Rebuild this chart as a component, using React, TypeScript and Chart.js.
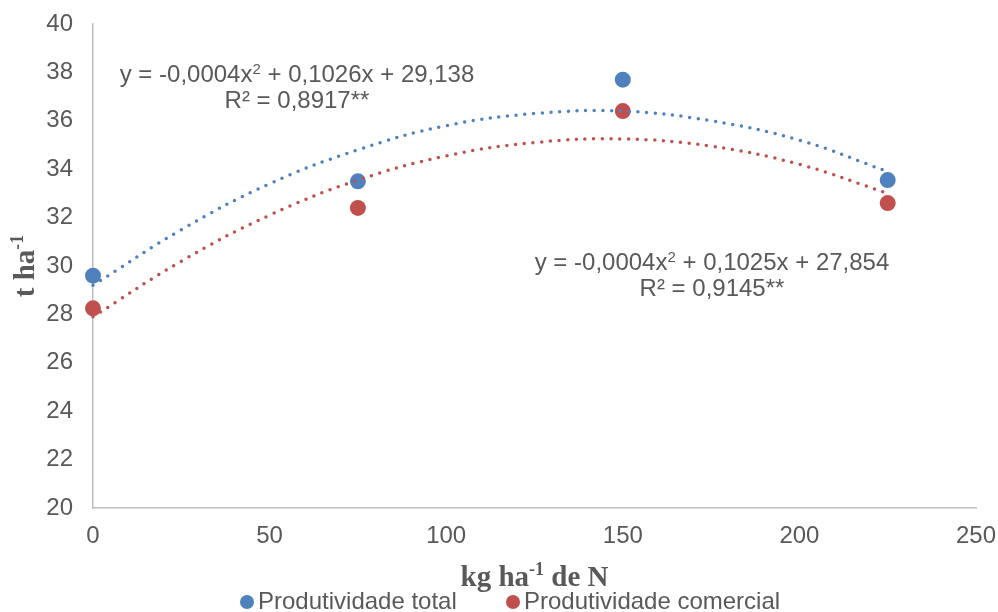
import { useEffect, useRef } from 'react';
import { Chart, registerables } from 'chart.js';

Chart.register(...registerables);

// Doses de N (kg/ha)
const xDoses = [0, 75, 150, 225];
const totalValues = [29.6, 33.5, 37.7, 33.55];
const comercialValues = [28.25, 32.4, 36.4, 32.6];

// Trend lines
const trendX = [0, 25, 50, 75, 100, 125, 150, 175, 200, 225];
const trendTotal = [29.2, 31.5, 33.4, 34.8, 35.8, 36.3, 36.4, 36.0, 35.2, 33.9];
const trendComercial = [27.9, 30.2, 32.1, 33.55, 34.55, 35.1, 35.25, 34.95, 34.2, 33.0];

const seriesNames = ['Produtividade total', 'Produtividade comercial'];
const equationTotal = ['y = -0,0004x', '2', ' + 0,1026x + 29,138'];
const r2Total = 'R² = 0,8917**';
const equationComercial = ['y = -0,0004x', '2', ' + 0,1025x + 27,854'];
const r2Comercial = 'R² = 0,9145**';

const BLUE = '#4F81BD';
const RED = '#C0504D';
const TEXT = '#595959';
const SANS = 'Arial, "Liberation Sans", sans-serif';
const SERIF = '"Times New Roman", "Liberation Serif", serif';

type Seg = { text: string; font: string; dy: number };

function drawRich(ctx: CanvasRenderingContext2D, segs: Seg[], x: number, y: number, align: 'left' | 'center') {
  let total = 0;
  for (const s of segs) {
    ctx.font = s.font;
    total += ctx.measureText(s.text).width;
  }
  let cx = align === 'center' ? x - total / 2 : x;
  ctx.textAlign = 'left';
  for (const s of segs) {
    ctx.font = s.font;
    ctx.fillText(s.text, cx, y + s.dy);
    cx += ctx.measureText(s.text).width;
  }
}

function toPoints(xs: number[], ys: number[]) {
  return xs.map((x, i) => ({ x, y: ys[i] }));
}

export default function App() {
  const ref = useRef<HTMLCanvasElement>(null);

  useEffect(() => {
    document.body.style.margin = '0';
    const canvas = ref.current!;

    const textPlugin = {
      id: 'customTexts',
      afterDraw(chart: any) {
        const ctx: CanvasRenderingContext2D = chart.ctx;
        const xs = chart.scales.x;
        const ys = chart.scales.y;
        ctx.save();
        ctx.fillStyle = TEXT;
        ctx.textBaseline = 'alphabetic';
        const main = `24px ${SANS}`;
        const sup = `15px ${SANS}`;
        // Equation 1
        drawRich(ctx, [
          { text: equationTotal[0], font: main, dy: 0 },
          { text: equationTotal[1], font: sup, dy: -8 },
          { text: equationTotal[2], font: main, dy: 0 },
        ], 297, 82, 'center');
        drawRich(ctx, [{ text: r2Total, font: main, dy: 0 }], 297, 108, 'center');
        // Equation 2
        drawRich(ctx, [
          { text: equationComercial[0], font: main, dy: 0 },
          { text: equationComercial[1], font: sup, dy: -8 },
          { text: equationComercial[2], font: main, dy: 0 },
        ], 712, 270, 'center');
        drawRich(ctx, [{ text: r2Comercial, font: main, dy: 0 }], 712, 296, 'center');

        // X axis title
        const tb = `bold 29px ${SERIF}`;
        const tsup = `bold 18px ${SERIF}`;
        const cxm = (xs.left + xs.right) / 2;
        drawRich(ctx, [
          { text: 'kg ha', font: tb, dy: 0 },
          { text: '-1', font: tsup, dy: -11 },
          { text: ' de N', font: tb, dy: 0 },
        ], cxm, 586, 'center');

        // Y axis title
        ctx.save();
        ctx.translate(34, (ys.top + ys.bottom) / 2);
        ctx.rotate(-Math.PI / 2);
        drawRich(ctx, [
          { text: 't ha', font: tb, dy: 0 },
          { text: '-1', font: tsup, dy: -11 },
        ], 0, 0, 'center');
        ctx.restore();

        // Legend
        ctx.textBaseline = 'middle';
        ctx.font = main;
        const ly = 602;
        const items = [
          { x: 247, color: BLUE, label: seriesNames[0] },
          { x: 513, color: RED, label: seriesNames[1] },
        ];
        for (const it of items) {
          ctx.beginPath();
          ctx.fillStyle = it.color;
          ctx.arc(it.x, ly, 7, 0, Math.PI * 2);
          ctx.fill();
          ctx.fillStyle = TEXT;
          ctx.textAlign = 'left';
          ctx.fillText(it.label, it.x + 11, ly);
        }
        ctx.restore();
      },
    };

    const trendStyle = {
      showLine: true,
      pointRadius: 0,
      pointHoverRadius: 0,
      borderWidth: 3.5,
      borderDash: [0, 8.7],
      borderCapStyle: 'round' as const,
      tension: 0.4,
      fill: false,
      clip: false as const,
    };

    const chart = new Chart(canvas, {
      type: 'scatter',
      data: {
        datasets: [
          { label: 'trend total', data: toPoints(trendX, trendTotal), borderColor: BLUE, ...trendStyle },
          { label: 'trend comercial', data: toPoints(trendX, trendComercial), borderColor: RED, ...trendStyle },
          {
            label: seriesNames[0],
            data: toPoints(xDoses, totalValues),
            backgroundColor: BLUE,
            borderColor: BLUE,
            pointRadius: 8,
            borderWidth: 0,
            clip: false,
          },
          {
            label: seriesNames[1],
            data: toPoints(xDoses, comercialValues),
            backgroundColor: RED,
            borderColor: RED,
            pointRadius: 8,
            borderWidth: 0,
            clip: false,
          },
        ],
      },
      options: {
        responsive: false,
        animation: false,
        devicePixelRatio: 1,
        layout: { padding: { left: 0, right: 22, top: 24, bottom: 0 } },
        plugins: {
          legend: { display: false },
          tooltip: { enabled: false },
        },
        scales: {
          x: {
            type: 'linear',
            min: 0,
            max: 250,
            ticks: { stepSize: 50, color: TEXT, font: { size: 24, family: SANS }, padding: 14 },
            grid: { display: false, drawTicks: false },
            border: { display: true, color: '#BFBFBF', width: 1.5 },
            afterFit: (s: any) => { s.height = 104; s.paddingLeft = 0; s.paddingRight = 0; },
          },
          y: {
            type: 'linear',
            min: 20,
            max: 40,
            ticks: { stepSize: 2, color: TEXT, font: { size: 24, family: SANS }, padding: 20 },
            grid: { display: false, drawTicks: false },
            border: { display: true, color: '#BFBFBF', width: 1.5 },
            afterFit: (s: any) => { s.width = 93; s.paddingTop = 0; s.paddingBottom = 0; },
          },
        },
      },
      plugins: [textPlugin],
    });
    return () => chart.destroy();
  }, []);

  return <canvas ref={ref} width={998} height={612} style={{ display: 'block' }} />;
}
